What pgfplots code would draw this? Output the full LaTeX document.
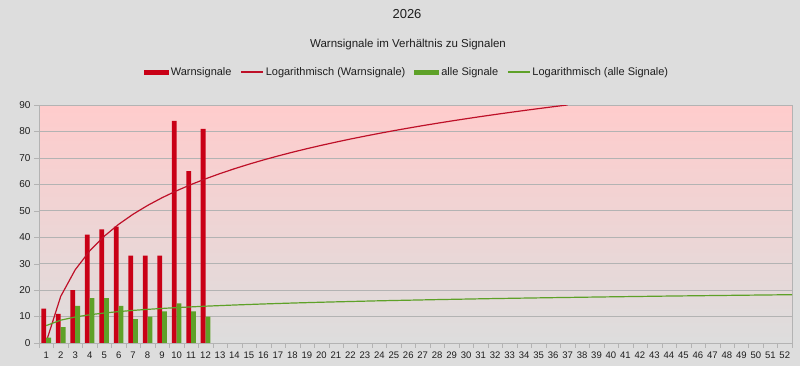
\documentclass[border=0pt]{standalone}
\usepackage{pgfplots}
\pgfplotsset{compat=1.18}
\usepackage{fontspec}
\setmainfont{Liberation Sans}
\definecolor{bg}{RGB}{221,221,221}
\definecolor{topc}{RGB}{255,204,204}
\definecolor{redbar}{RGB}{201,0,22}
\definecolor{redline}{RGB}{190,16,40}
\definecolor{grnbar}{RGB}{94,161,40}
\definecolor{gridc}{RGB}{179,179,179}
\definecolor{txt}{RGB}{30,30,30}

\begin{document}
\begin{tikzpicture}[x=1pt,y=1pt]
\fill[bg] (0,0) rectangle (800,366);
\node[font=\fontsize{13}{15}\selectfont, text=txt] at (407,352) {2026};
\node[font=\fontsize{11.5}{14}\selectfont, text=txt] at (408,321) {Warnsignale im Verhältnis zu Signalen};
\begin{axis}[
  at={(39pt,23pt)}, anchor=south west,
  scale only axis, width=753pt, height=238pt,
  xmin=0.5, xmax=52.5, ymin=0, ymax=90,
  axis background/.style={shade, top color=topc, bottom color=bg},
  axis line style={gridc},
  xtick={1,...,52},
  minor xtick={0.5,1.5,...,52.5},
  ytick={0,10,...,90},
  tick pos=left,
  ymajorgrids, grid style={gridc, line width=0.6pt},
  tick align=outside, major tick length=5pt, minor tick length=5pt,
  major x tick style={draw=none},
  minor x tick style={draw=gridc},
  y tick style={draw=gridc},
  /pgf/number format/assume math mode=true,
  xticklabel style={font=\fontsize{9.5}{11}\selectfont, text=txt, inner xsep=0pt},
  yticklabel style={font=\fontsize{10}{12}\selectfont, text=txt},
  legend columns=4,
  legend style={at={(axis description cs:0.5,1)}, anchor=center, yshift=33pt, xshift=-8.5pt,
    draw=none, fill=none, font=\fontsize{11}{13}\selectfont, text=txt,
    /tikz/every even column/.append style={column sep=7pt}},
  legend cell align=left,
]
\addplot[ybar, bar width=4.8pt, bar shift=-2.4pt, fill=redbar, draw=none,
  legend image code/.code={\fill[redbar] (0pt,-2.5pt) rectangle (25pt,2.5pt);}]
  coordinates {(1,13) (2,11) (3,20) (4,41) (5,43) (6,44) (7,33) (8,33) (9,33) (10,84) (11,65) (12,81)};
\addlegendentry{Warnsignale}
\addplot[redline, line width=1.2pt, sharp plot, no marks,
  legend image code/.code={\draw[redline, line width=1.2pt] (0pt,0pt) -- (22pt,0pt);}]
  coordinates {(1,0.43) (2,17.63) (3,27.69) (4,34.82) (5,40.36) (6,44.88) (7,48.71) (8,52.02) (9,54.94) (10,57.56)
  (11,59.92) (12,62.08) (13,64.07) (14,65.91) (15,67.62) (16,69.22) (17,70.72) (18,72.14) (19,73.48) (20,74.75)
  (21,75.96) (22,77.12) (23,78.22) (24,79.28) (25,80.29) (26,81.26) (27,82.20) (28,83.10) (29,83.97) (30,84.81)
  (31,85.63) (32,86.41) (33,87.18) (34,87.92) (35,88.64) (36,89.34) (37,90.02)};
\addlegendentry{Logarithmisch (Warnsignale)}
\addplot[ybar, bar width=4.8pt, bar shift=2.4pt, fill=grnbar, draw=none,
  legend image code/.code={\fill[grnbar] (0pt,-2.5pt) rectangle (25pt,2.5pt);}]
  coordinates {(1,2) (2,6) (3,14) (4,17) (5,17) (6,14) (7,9) (8,10) (9,12) (10,15) (11,12) (12,10)};
\addlegendentry{alle Signale}
\addplot[grnbar, line width=1.2pt, sharp plot, no marks,
  legend image code/.code={\draw[grnbar, line width=1.2pt] (0pt,0pt) -- (22pt,0pt);}]
  coordinates {(1,6.59) (2,8.63) (3,9.83) (4,10.68) (5,11.33) (6,11.87) (7,12.33) (8,12.72) (9,13.07) (10,13.38)
  (12,13.92) (14,14.37) (16,14.76) (18,15.11) (20,15.42) (24,15.96) (28,16.41) (32,16.81) (36,17.15)
  (40,17.46) (44,17.75) (48,18.00) (52,18.24) (52.5,18.28)};
\addlegendentry{Logarithmisch (alle Signale)}
\end{axis}
\end{tikzpicture}
\end{document}
